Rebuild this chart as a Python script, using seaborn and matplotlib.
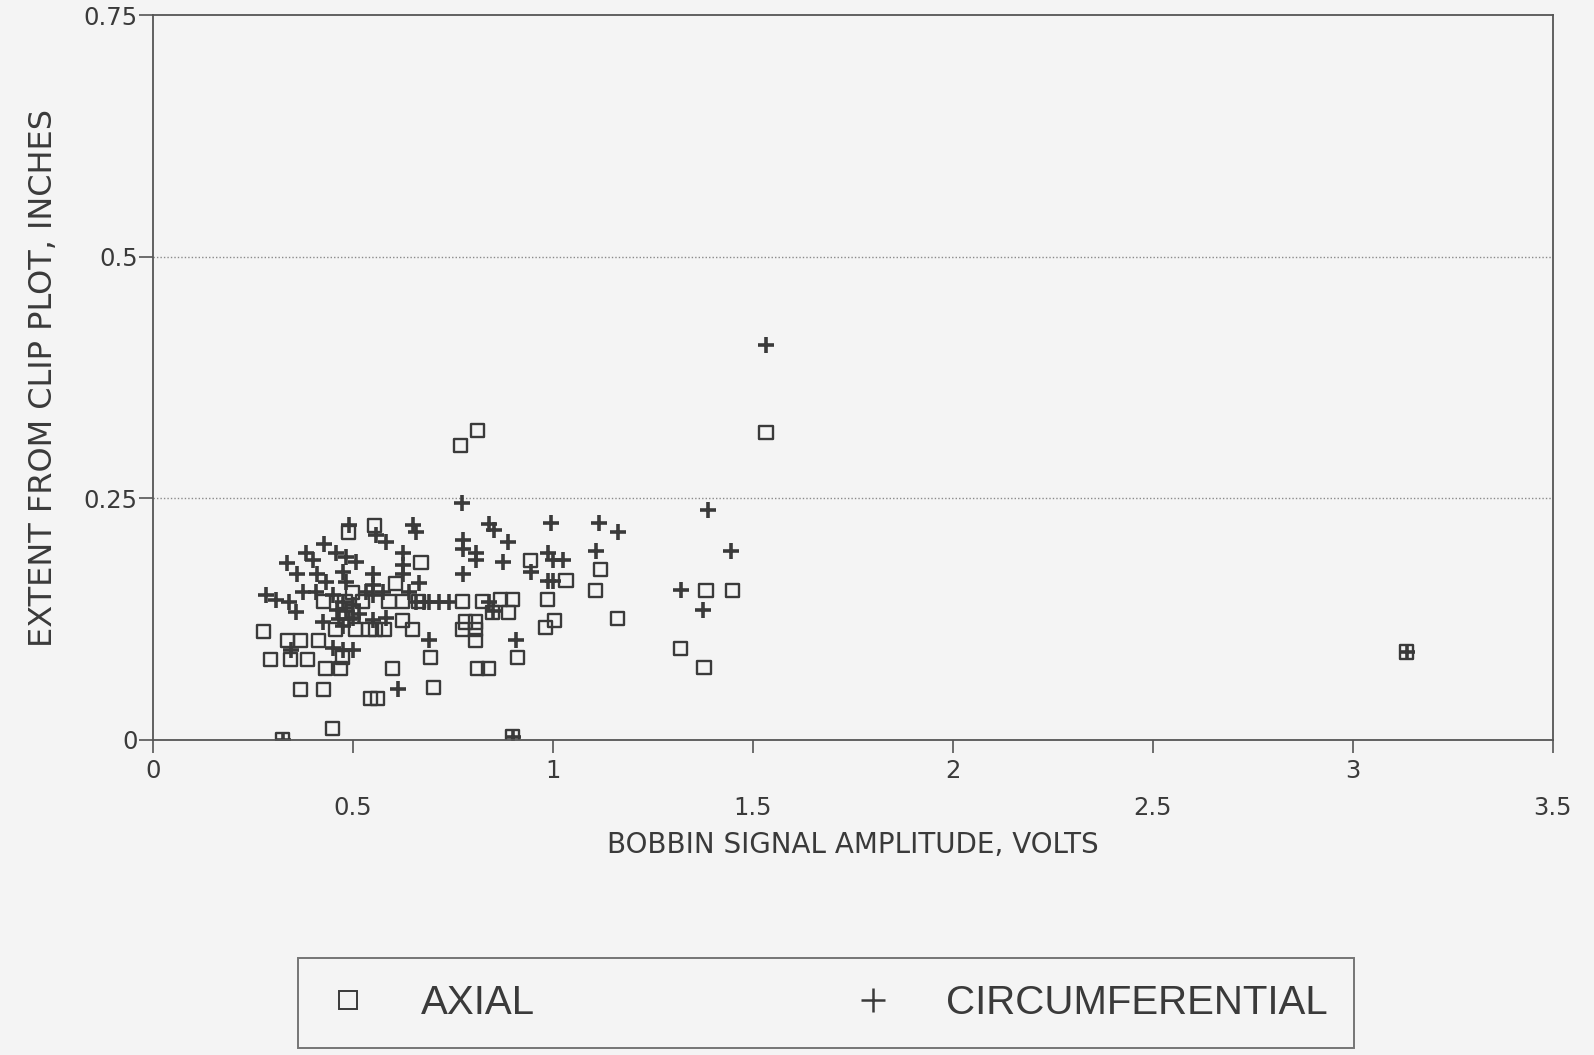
import matplotlib
matplotlib.use("Agg")
import matplotlib.pyplot as plt
from matplotlib.lines import Line2D
import seaborn as sns
import pandas as pd

# Axial indications: bobbin amplitude (V) and extent from clip plot (in)
axial_x = [0.769, 0.811, 1.533, 0.489, 0.553, 0.670, 0.427, 0.499, 0.524, 0.607,
           0.624, 0.664, 0.774, 0.824, 0.782, 0.807, 0.774, 0.807, 0.807, 0.624,
           0.649, 0.557, 0.578, 0.507, 0.457, 0.277, 0.336, 0.369, 0.414, 0.294,
           0.344, 0.387, 0.432, 0.469, 0.474, 0.599, 0.694, 0.812, 0.840, 0.369,
           0.427, 0.544, 0.562, 0.702, 0.449, 0.324, 0.899, 3.135, 0.945, 1.033,
           1.120, 1.107, 1.383, 1.450, 0.987, 1.003, 0.982, 1.162, 0.870, 0.900,
           0.850, 0.890, 0.912, 1.320, 1.378, 0.540, 0.590, 0.480]
axial_y = [0.305, 0.320, 0.318, 0.215, 0.222, 0.184, 0.143, 0.153, 0.143, 0.162,
           0.143, 0.143, 0.143, 0.143, 0.122, 0.122, 0.114, 0.114, 0.103, 0.124,
           0.114, 0.114, 0.114, 0.114, 0.114, 0.112, 0.103, 0.103, 0.103, 0.083,
           0.083, 0.083, 0.074, 0.074, 0.085, 0.074, 0.085, 0.074, 0.074, 0.052,
           0.052, 0.043, 0.043, 0.054, 0.012, 0.000, 0.003, 0.091, 0.186, 0.165,
           0.176, 0.155, 0.155, 0.155, 0.145, 0.124, 0.116, 0.126, 0.145, 0.145,
           0.132, 0.132, 0.085, 0.095, 0.075, 0.114, 0.143, 0.143]

# Circumferential indications
circ_x = [1.533, 0.773, 1.387, 0.649, 0.657, 0.557, 0.582, 0.489, 0.427, 0.382,
          0.399, 0.336, 0.457, 0.482, 0.507, 0.624, 0.624, 0.774, 0.774, 0.807,
          0.807, 0.774, 0.840, 0.361, 0.411, 0.432, 0.474, 0.482, 0.549, 0.549,
          0.624, 0.664, 0.282, 0.307, 0.339, 0.357, 0.374, 0.407, 0.449, 0.474,
          0.482, 0.490, 0.474, 0.533, 0.549, 0.574, 0.640, 0.657, 0.677, 0.690,
          0.715, 0.740, 0.840, 0.849, 0.424, 0.499, 0.549, 0.582, 0.449, 0.474,
          0.499, 0.344, 0.690, 0.612, 0.852, 0.887, 0.995, 1.115, 1.162, 1.445,
          1.107, 0.874, 0.987, 1.000, 1.025, 0.945, 0.987, 1.000, 1.320, 1.375,
          0.907, 0.324, 0.899, 3.135, 0.460, 0.500, 0.465, 0.515]
circ_y = [0.409, 0.245, 0.238, 0.222, 0.215, 0.212, 0.205, 0.222, 0.203, 0.193,
          0.186, 0.183, 0.193, 0.189, 0.184, 0.193, 0.181, 0.207, 0.198, 0.193,
          0.186, 0.172, 0.224, 0.172, 0.172, 0.163, 0.174, 0.163, 0.172, 0.160,
          0.172, 0.162, 0.150, 0.145, 0.143, 0.132, 0.153, 0.153, 0.150, 0.143,
          0.133, 0.125, 0.118, 0.153, 0.150, 0.153, 0.153, 0.143, 0.143, 0.143,
          0.143, 0.143, 0.143, 0.133, 0.122, 0.126, 0.124, 0.126, 0.095, 0.093,
          0.093, 0.093, 0.103, 0.053, 0.217, 0.205, 0.225, 0.225, 0.215, 0.196,
          0.196, 0.184, 0.193, 0.186, 0.186, 0.174, 0.165, 0.165, 0.155, 0.134,
          0.103, 0.000, 0.003, 0.091, 0.135, 0.140, 0.125, 0.130]

x_major = [0, 1, 2, 3]
x_minor = [0.5, 1.5, 2.5, 3.5]
y_ticks = [0, 0.25, 0.5, 0.75]
y_ticklabels = ["0", "0.25", "0.5", "0.75"]

axial = pd.DataFrame({"amp": axial_x, "extent": axial_y})
circ = pd.DataFrame({"amp": circ_x, "extent": circ_y})

sns.set_theme(style="white")
plt.rcParams["font.family"] = ["DejaVu Sans"]

ink = "#3a3a3a"
paper = "#f4f4f4"

fig = plt.figure(figsize=(15.94, 10.55), dpi=100, facecolor=paper)
ax = fig.add_axes([0.096, 0.2986, 0.878, 0.687], facecolor=paper)

sns.scatterplot(data=axial, x="amp", y="extent", ax=ax, marker="s", s=90,
                facecolor="none", edgecolor=ink, linewidth=1.7, legend=False)
sns.scatterplot(data=circ, x="amp", y="extent", ax=ax, marker="+", s=130,
                color=ink, linewidth=2.6, legend=False)

ax.set_xlim(0, 3.5)
ax.set_ylim(0, 0.75)

# dotted reference lines at the inner y ticks
for yv in y_ticks[1:-1]:
    ax.axhline(yv, color="#8a8a8a", linestyle=(0, (1, 1.5)), linewidth=1.0, zorder=0)

for s in ax.spines.values():
    s.set_color("#555555")
    s.set_linewidth(1.3)

ax.set_yticks(y_ticks)
ax.set_yticklabels(y_ticklabels)
ax.set_xticks(x_major)
ax.set_xticklabels([str(v) for v in x_major])
ax.set_xticks(x_minor, minor=True)
ax.set_xticklabels([str(v) for v in x_minor], minor=True)

ax.tick_params(axis="y", which="major", direction="out", length=10, width=1.2,
               color="#555555", labelsize=17.5, labelcolor=ink, pad=1, left=True)
ax.tick_params(axis="x", which="major", direction="out", length=9, width=1.2,
               color="#555555", labelsize=17.5, labelcolor=ink, pad=5, bottom=True)
ax.tick_params(axis="x", which="minor", direction="out", length=9, width=1.2,
               color="#555555", labelsize=17.5, labelcolor=ink, pad=31, bottom=True)

ax.set_xlabel("BOBBIN SIGNAL AMPLITUDE, VOLTS", fontsize=20, color=ink, labelpad=8)
ax.set_ylabel("EXTENT FROM CLIP PLOT, INCHES", fontsize=23, color=ink, labelpad=18)

handles = [
    Line2D([], [], linestyle="none", marker="s", markersize=13,
           markerfacecolor="none", markeredgecolor=ink, markeredgewidth=1.4),
    Line2D([], [], linestyle="none", marker="+", markersize=17,
           color=ink, markeredgewidth=1.8),
]
leg = fig.legend(handles, ["AXIAL", "CIRCUMFERENTIAL"], ncol=2,
                 loc="center", bbox_to_anchor=(0.518, 0.049),
                 frameon=True, fancybox=False,
                 prop={"family": ["Liberation Sans Narrow", "Liberation Sans"], "size": 29},
                 columnspacing=7.8, handletextpad=1.2, borderpad=0.65,
                 handlelength=1.2)
leg.get_frame().set_edgecolor("#555555")
leg.get_frame().set_linewidth(1.4)
leg.get_frame().set_facecolor(paper)
for t in leg.get_texts():
    t.set_color(ink)

fig.savefig("out.png", dpi=100, facecolor=paper)
